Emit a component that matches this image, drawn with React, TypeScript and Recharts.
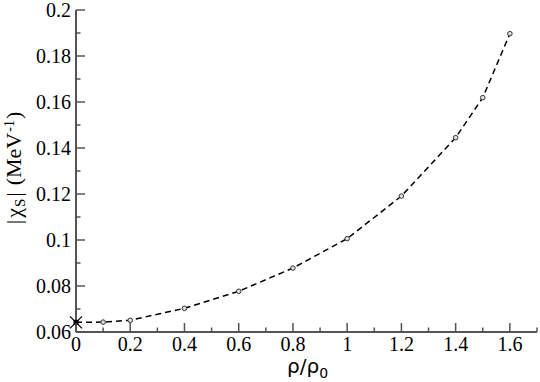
import React from "react";
import {
  LineChart,
  Line,
  XAxis,
  YAxis,
} from "recharts";

const densityRatio = [0, 0.1, 0.2, 0.4, 0.6, 0.8, 1.0, 1.2, 1.4, 1.5, 1.6];
const chiS = [0.0642, 0.0643, 0.0651, 0.0703, 0.0777, 0.0878, 0.1006, 0.1191, 0.1445, 0.1619, 0.1897];

const xMajorTicks = [0, 0.2, 0.4, 0.6, 0.8, 1, 1.2, 1.4, 1.6];
const xMinorTicks = [0.1, 0.3, 0.5, 0.7, 0.9, 1.1, 1.3, 1.5, 1.7];
const yMajorTicks = [0.06, 0.08, 0.1, 0.12, 0.14, 0.16, 0.18, 0.2];
const yMinorTicks = [0.07, 0.09, 0.11, 0.13, 0.15, 0.17, 0.19];

const xTickLabels = ["0", "0.2", "0.4", "0.6", "0.8", "1", "1.2", "1.4", "1.6"];
const yTickLabels = ["0.06", "0.08", "0.1", "0.12", "0.14", "0.16", "0.18", "0.2"];

const data = densityRatio.map((x, i) => ({ x, y: chiS[i] }));

const xTicks = [...xMajorTicks, ...xMinorTicks].sort((a, b) => a - b);
const yTicks = [...yMajorTicks, ...yMinorTicks].sort((a, b) => a - b);

const AXIS = "#555";
const SERIF = { fontFamily: "Liberation Serif" };
const MAJOR = 9;
const MINOR = 4.5;

const near = (arr: number[], v: number) => arr.findIndex((a) => Math.abs(a - v) < 1e-6);

const makeXTick = (side: "bottom" | "top") => (props: any) => {
  const { x, y, payload } = props;
  const mi = near(xMajorTicks, payload.value);
  const len = mi >= 0 ? MAJOR : MINOR;
  const dir = side === "bottom" ? -1 : 1;
  return (
    <g>
      <line x1={x} y1={y} x2={x} y2={y + dir * len} stroke={AXIS} strokeWidth={1.5} />
      {side === "bottom" && mi >= 0 ? (
        <text x={x} y={y + 19} textAnchor="middle" style={SERIF} fontSize={20} fill="#000">
          {xTickLabels[mi]}
        </text>
      ) : null}
    </g>
  );
};

const makeYTick = (side: "left" | "right") => (props: any) => {
  const { x, y, payload } = props;
  const mi = near(yMajorTicks, payload.value);
  const len = mi >= 0 ? MAJOR : MINOR;
  const dir = side === "left" ? 1 : -1;
  return (
    <g>
      <line x1={x} y1={y} x2={x + dir * len} y2={y} stroke={AXIS} strokeWidth={1.5} />
      {side === "left" && mi >= 0 ? (
        <text x={x - 5} y={y + 6.6} textAnchor="end" style={SERIF} fontSize={20} fill="#000">
          {yTickLabels[mi]}
        </text>
      ) : null}
    </g>
  );
};

const Dot = (props: any) => {
  const { cx, cy, index } = props;
  if (cx == null || cy == null) return null;
  if (index === 0) {
    const s = 6;
    return (
      <g>
        <line x1={cx - s} y1={cy - s} x2={cx + s} y2={cy + s} stroke="#000" strokeWidth={1.2} />
        <line x1={cx - s} y1={cy + s} x2={cx + s} y2={cy - s} stroke="#000" strokeWidth={1.2} />
        <rect x={cx - 2.5} y={cy - 2.5} width={5} height={5} fill="#000" />
      </g>
    );
  }
  return <circle cx={cx} cy={cy} r={2.3} fill="#ddd" stroke="#333" strokeWidth={1} />;
};

const XLabel = () => (
  <text x={287} y={373} style={{ fontFamily: "DejaVu Sans" }} fontSize={20} fill="#000">
    ρ/ρ
    <tspan fontSize={14} dy={5}>0</tspan>
  </text>
);

const YLabel = () => (
  <text
    transform="translate(21,168) rotate(-90)"
    textAnchor="middle"
    style={SERIF}
    fontSize={22}
    fill="#000"
  >
    |
    <tspan dx={2}>χ</tspan>
    <tspan fontSize={15} dy={4} dx={1}>S</tspan>
    <tspan dy={-4} dx={2}>|</tspan>
    <tspan dx={7}>(MeV</tspan>
    <tspan fontSize={14} dy={-7} dx={1}>-1</tspan>
    <tspan dy={7} dx={1}>)</tspan>
  </text>
);

export default function App() {
  return (
    <div style={{ position: "absolute", left: 0, top: 0, width: 540, height: 382, background: "#fff" }}>
      <LineChart
        width={540}
        height={382}
        data={data}
        margin={{ top: 10, right: 3, bottom: 0, left: 0 }}
      >
        <XAxis
          xAxisId="b"
          dataKey="x"
          type="number"
          domain={[0, 1.7]}
          ticks={xTicks}
          interval={0}
          orientation="bottom"
          height={50}
          tickSize={0}
          tickMargin={0}
          tickLine={false}
          axisLine={{ stroke: AXIS, strokeWidth: 2 }}
          tick={makeXTick("bottom")}
        />
        <XAxis
          xAxisId="t"
          dataKey="x"
          type="number"
          domain={[0, 1.7]}
          ticks={xTicks}
          interval={0}
          orientation="top"
          height={0}
          tickSize={0}
          tickMargin={0}
          tickLine={false}
          axisLine={{ stroke: AXIS, strokeWidth: 2 }}
          tick={makeXTick("top")}
        />
        <YAxis
          yAxisId="l"
          type="number"
          domain={[0.06, 0.2]}
          ticks={yTicks}
          interval={0}
          orientation="left"
          width={76}
          tickSize={0}
          tickMargin={0}
          tickLine={false}
          axisLine={{ stroke: AXIS, strokeWidth: 2 }}
          tick={makeYTick("left")}
        />
        <YAxis
          yAxisId="r"
          type="number"
          domain={[0.06, 0.2]}
          ticks={yTicks}
          interval={0}
          orientation="right"
          width={0}
          tickSize={0}
          tickMargin={0}
          tickLine={false}
          axisLine={{ stroke: AXIS, strokeWidth: 2 }}
          tick={makeYTick("right")}
        />
        <Line
          xAxisId="t"
          yAxisId="r"
          dataKey="y"
          stroke="none"
          dot={false}
          activeDot={false}
          isAnimationActive={false}
        />
        <Line
          xAxisId="b"
          yAxisId="l"
          dataKey="y"
          type="linear"
          stroke="#000"
          strokeWidth={1.5}
          strokeDasharray="6 4"
          dot={<Dot />}
          activeDot={false}
          isAnimationActive={false}
        />
        <XLabel />
        <YLabel />
      </LineChart>
    </div>
  );
}
